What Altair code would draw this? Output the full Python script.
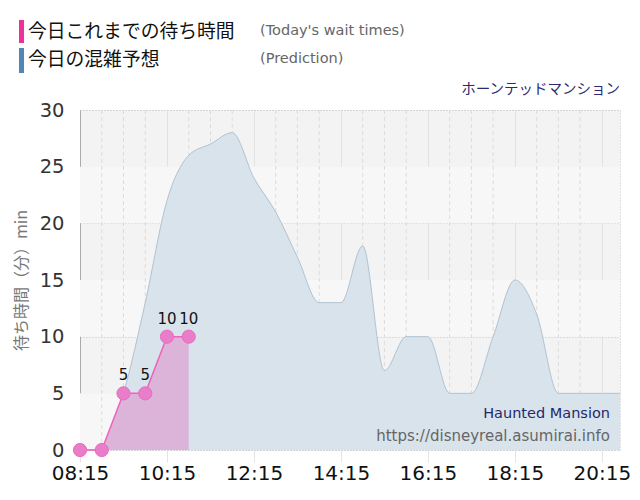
import altair as alt
import pandas as pd

DAY = "2024-01-01T"

# Actual wait times so far
actual_times = ["08:15", "08:45", "09:15", "09:45", "10:15", "10:45"]
actual_values = [0, 0, 5, 5, 10, 10]

# Predicted congestion
pred_times = ["08:15", "08:45", "09:15", "09:45", "10:15", "10:45", "11:15", "11:45",
              "12:15", "12:45", "13:15", "13:45", "14:15", "14:45", "15:15", "15:45",
              "16:15", "16:45", "17:15", "17:45", "18:15", "18:45", "19:15", "19:45",
              "20:15", "20:40"]
pred_values = [0, 0, 5, 13, 22, 26, 27, 28,
               24, 21, 17, 13, 13, 18, 7, 10,
               10, 5, 5, 10, 15, 12, 5, 5,
               5, 5]

tick_labels = ["08:15", "10:15", "12:15", "14:15", "16:15", "18:15", "20:15"]
minor_grid = ["08:45", "09:15", "09:45", "10:45", "11:15", "11:45", "12:45", "13:15",
              "13:45", "14:45", "15:15", "15:45", "16:45", "17:15", "17:45", "18:45",
              "19:15", "19:45"]
band_lo = [0, 10, 20]
band_hi = [5, 15, 25]


def dt(s):
    h, m = s.split(":")
    return alt.DateTime(year=2024, month=1, date=1, hours=int(h), minutes=int(m))


actual_df = pd.DataFrame({"t": [DAY + s + ":00" for s in actual_times], "v": actual_values})
actual_df["lab"] = [str(v) if v > 0 else "" for v in actual_values]
pred_df = pd.DataFrame({"t": [DAY + s + ":00" for s in pred_times], "v": pred_values})
grid_df = pd.DataFrame({"t": [DAY + s + ":00" for s in minor_grid]})
band_df = pd.DataFrame({"lo": band_lo, "hi": band_hi})

xscale = alt.Scale(domain=[dt("08:15"), dt("20:40")])
yscale = alt.Scale(domain=[0, 30])

xaxis = alt.Axis(values=[dt(s) for s in tick_labels], format="%H:%M", title=None,
                 labelFontSize=20, labelColor="#111", labelFont="DejaVu Sans",
                 tickSize=12, tickColor="#e4e4e4", domain=False, grid=True,
                 gridColor="#e2e2e2", labelPadding=1, labelFlush=False)
yaxis = alt.Axis(values=[0, 5, 10, 15, 20, 25, 30], title="待ち時間（分）min",
                 titleFont="Noto Sans CJK JP", titleFontSize=16, titleFontWeight="normal",
                 titleColor="#777", titlePadding=10,
                 labelFontSize=19.5, labelColor="#333", labelFont="DejaVu Sans",
                 ticks=False, labelPadding=16, domain=True, domainColor="#aaaaaa",
                 grid=True, gridColor="#c4c4c4", gridDash=[1, 2])

bands = alt.Chart(band_df).mark_rect(color="#f7f7f7").encode(
    y=alt.Y("lo:Q", scale=yscale, axis=yaxis), y2="hi:Q")

minor = alt.Chart(grid_df).mark_rule(color="#dcdcdc", strokeDash=[4, 3], strokeWidth=1).encode(
    x=alt.X("t:T", scale=xscale, axis=xaxis))

pred = alt.Chart(pred_df).mark_area(
    interpolate="monotone", color="#d9e3eb", opacity=1,
    line={"color": "#b0c2d1", "strokeWidth": 1}).encode(
    x=alt.X("t:T", scale=xscale), y=alt.Y("v:Q", scale=yscale))

act_area = alt.Chart(actual_df).mark_area(color="#dcb4da", opacity=1).encode(
    x=alt.X("t:T", scale=xscale), y=alt.Y("v:Q", scale=yscale))
act_line = alt.Chart(actual_df).mark_line(color="#ee62bb", strokeWidth=1.5).encode(
    x=alt.X("t:T", scale=xscale), y=alt.Y("v:Q", scale=yscale))
act_pts = alt.Chart(actual_df).mark_point(filled=True, size=175, color="#ea7dca", opacity=1,
                                          stroke="#e86cc2", strokeWidth=1).encode(
    x=alt.X("t:T", scale=xscale), y=alt.Y("v:Q", scale=yscale))
act_lab = alt.Chart(actual_df).mark_text(dy=-18, fontSize=15, font="DejaVu Sans", color="#111").encode(
    x=alt.X("t:T", scale=xscale), y=alt.Y("v:Q", scale=yscale), text="lab:N")


def label(text, x, y, size, color, font, align="left"):
    return alt.Chart(pd.DataFrame({"s": [text]})).mark_text(
        align=align, baseline="middle", fontSize=size, color=color, font=font).encode(
        x=alt.value(x), y=alt.value(y), text="s:N")


def bar(color, y0, y1):
    return alt.Chart(pd.DataFrame({"a": [0]})).mark_rect(color=color).encode(
        x=alt.value(-61), x2=alt.value(-56), y=alt.value(y0), y2=alt.value(y1))


header = [
    bar("#f0309a", -90, -67),
    bar("#4f86b6", -62, -37),
    label("今日これまでの待ち時間", -52, -78, 18.8, "#111", "Noto Sans CJK JP"),
    label("(Today's wait times)", 180, -79, 14.5, "#666", "DejaVu Sans"),
    label("今日の混雑予想", -52, -50, 18.8, "#111", "Noto Sans CJK JP"),
    label("(Prediction)", 180, -51, 14.5, "#666", "DejaVu Sans"),
    label("ホーンテッドマンション", 540, -20, 14.5, "#2a2a70", "Noto Sans CJK JP", align="right"),
    label("Haunted Mansion", 530, 304, 14.5, "#1f2a6b", "DejaVu Sans", align="right"),
    label("https://disneyreal.asumirai.info", 530, 326, 15, "#666", "DejaVu Sans", align="right"),
]

chart = alt.layer(bands, minor, pred, act_area, act_line, act_pts, act_lab, *header).properties(
    width=540, height=340,
    autosize=alt.AutoSizeParams(type="none"),
    padding={"left": 72, "top": 102, "right": 12, "bottom": 42},
).configure_view(fill="#f3f3f3", stroke="#c8c8c8", strokeDash=[1, 2])

chart.save("out.html", embed_options={"renderer": "svg", "actions": False})
